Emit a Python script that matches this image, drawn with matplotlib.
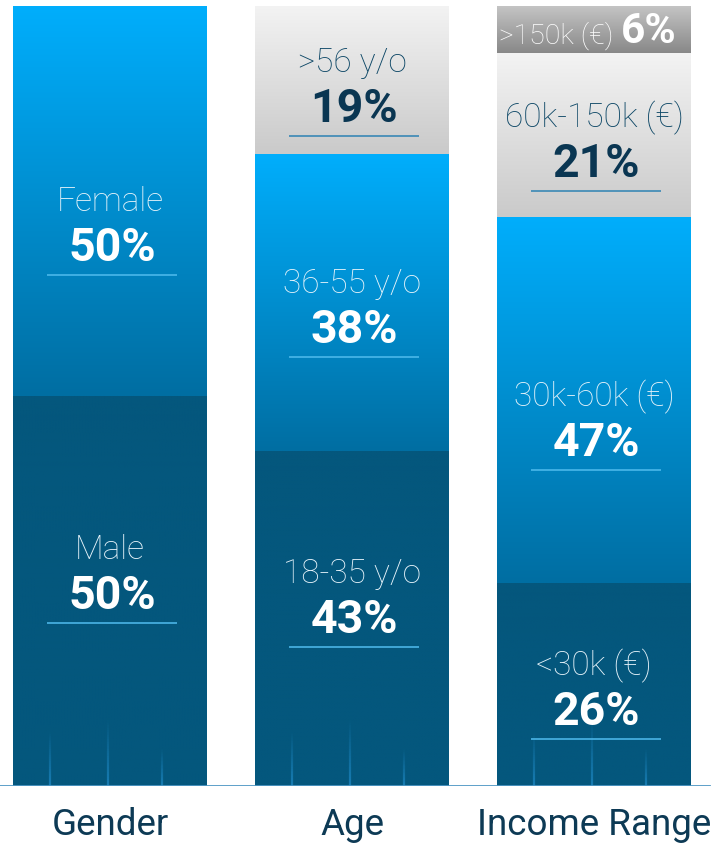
import numpy as np
import matplotlib
matplotlib.use('Agg')
import matplotlib.pyplot as plt
from matplotlib.colors import to_rgb
from matplotlib.collections import LineCollection

# ---------------- data ----------------
categories = ['Gender', 'Age', 'Income Range']
# segments listed bottom -> top
segment_labels = [
    ['Male', 'Female'],
    ['18-35 y/o', '36-55 y/o', '>56 y/o'],
    ['<30k (€)', '30k-60k (€)', '60k-150k (€)', '>150k (€)'],
]
segment_values = [
    [50, 50],
    [43, 38, 19],
    [26, 47, 21, 6],
]
# baseline of the percentage text (layout, in % units)
pct_text_y = [
    [22.7, 67.3],
    [19.6, 56.8, 85.1],
    [7.8, 42.3, 78.1, 95.2],
]

# ---------------- style ----------------
plt.rcParams['font.family'] = ['Roboto', 'DejaVu Sans']
# per stack level: (top colour, bottom colour, label colour, pct colour, rule colour)
level_styles = [
    ('#04577d', '#04577d', '#e6f3fa', '#ffffff', '#4ab4e6'),
    ('#00aefc', '#006ea2', '#e6f3fa', '#ffffff', '#4ab8ea'),
    ('#f3f3f3', '#cacaca', '#0d4766', '#0a3652', '#3a88b5'),
    ('#c4c4c4', '#888888', '#ffffff', '#ffffff', '#ffffff'),
]
bar_width = 0.8

fig = plt.figure(figsize=(7.16, 8.44), dpi=100)
ax = fig.add_axes([0, 58 / 844, 1, 780 / 844])


def grad(top, bottom, n=256):
    t = np.linspace(0, 1, n)[:, None]
    a = np.array(to_rgb(top))
    b = np.array(to_rgb(bottom))
    return (a * (1 - t) + b * t)[:, None, :]


x = np.arange(len(categories))
for i, (vals, labs, tys) in enumerate(zip(segment_values, segment_labels, pct_text_y)):
    bottom = 0
    for lvl, (v, lab, ty) in enumerate(zip(vals, labs, tys)):
        top_c, bot_c, lab_c, pct_c, rule_c = level_styles[lvl]
        bar = ax.bar(x[i], v, bottom=bottom, width=bar_width, color=bot_c,
                     linewidth=0, zorder=1)[0]
        x0 = x[i] - bar_width / 2
        im = ax.imshow(grad(top_c, bot_c), extent=[x0, x0 + bar_width, bottom, bottom + v],
                       aspect='auto', zorder=2, interpolation='bilinear')
        im.set_clip_path(bar)

        if lvl == 0:
            # faint decorative strokes rising from the baseline
            for fx, h in zip([0.19, 0.49, 0.77], [7.2, 8.7, 4.9]):
                xs = x0 + fx * bar_width
                ys = np.linspace(0, h, 30)
                segs = [[(xs, ys[k]), (xs, ys[k + 1])] for k in range(len(ys) - 1)]
                alphas = np.linspace(0.9, 0.0, len(segs))
                cols = [(0.10, 0.50, 0.72, a) for a in alphas]
                ax.add_collection(LineCollection(segs, colors=cols, linewidths=1.6, zorder=3))

        pct = f'{v}%'
        if v < 10:
            ax.text(x[i] + 0.08, ty, lab, ha='right', va='baseline', fontsize=20.5,
                    fontweight='light', color=lab_c, zorder=5)
            ax.text(x[i] + 0.11, ty, pct, ha='left', va='baseline', fontsize=30.5,
                    fontweight='bold', color=pct_c, zorder=5)
        else:
            ax.text(x[i], ty + 6.4, lab, ha='center', va='baseline', fontsize=24,
                    fontweight='light', color=lab_c, zorder=5)
            ax.text(x[i] + 0.01, ty, pct, ha='center', va='baseline', fontsize=33.5,
                    fontweight='bold', color=pct_c, zorder=5)
            ax.plot([x[i] - 0.26, x[i] + 0.275], [ty - 1.8, ty - 1.8], color=rule_c,
                    lw=1.2, zorder=5, solid_capstyle='butt')
        bottom += v

ax.axhline(0, xmin=0, xmax=0.99, color='#4f97c4', lw=2.0, zorder=6)

ax.set_xlim(-110 / 242, (716 - 110) / 242)
ax.set_ylim(0, 100)
ax.set_xticks(x)
ax.set_xticklabels(categories, fontsize=26.5, color='#0d3a55')
ax.tick_params(axis='x', length=0, pad=15)
ax.set_yticks([])
for s in ax.spines.values():
    s.set_visible(False)
ax.patch.set_alpha(0)

fig.savefig('out.png', dpi=100)
